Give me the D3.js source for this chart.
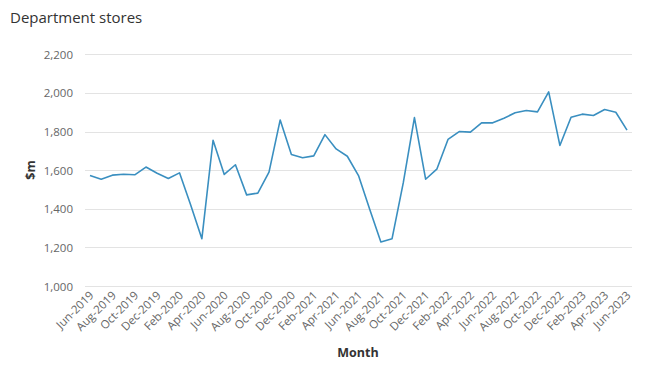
<!DOCTYPE html>
<html><head><meta charset="utf-8">
<script src="https://cdn.jsdelivr.net/npm/d3@7"></script>
<style>body{margin:0;background:#fff;} svg{display:block;}</style>
</head><body>
<svg id="c" width="650" height="366"></svg>
<script>
const months = ["Jun-2019","Jul-2019","Aug-2019","Sep-2019","Oct-2019","Nov-2019","Dec-2019","Jan-2020","Feb-2020","Mar-2020","Apr-2020","May-2020","Jun-2020","Jul-2020","Aug-2020","Sep-2020","Oct-2020","Nov-2020","Dec-2020","Jan-2021","Feb-2021","Mar-2021","Apr-2021","May-2021","Jun-2021","Jul-2021","Aug-2021","Sep-2021","Oct-2021","Nov-2021","Dec-2021","Jan-2022","Feb-2022","Mar-2022","Apr-2022","May-2022","Jun-2022","Jul-2022","Aug-2022","Sep-2022","Oct-2022","Nov-2022","Dec-2022","Jan-2023","Feb-2023","Mar-2023","Apr-2023","May-2023","Jun-2023"];
const sales = [1572,1553,1574,1579,1576,1616,1584,1557,1586,1420,1245,1755,1578,1628,1472,1481,1590,1860,1681,1664,1674,1784,1710,1672,1572,1397,1228,1245,1534,1872,1553,1605,1759,1800,1797,1845,1845,1869,1897,1909,1902,2005,1728,1874,1890,1883,1914,1900,1807];
const yTicks = [1000,1200,1400,1600,1800,2000,2200];
const title = "Department stores";
const xTitle = "Month";
const yTitle = "$m";

(function () {
const svg = d3.select("#c");
const font = "'Open Sans', sans-serif";
const pLeft = 85, pRight = 632, pTop = 54.3, pBottom = 286;

const x = d3.scalePoint().domain(months).range([90, 627]);
const y = d3.scaleLinear().domain([1000, 2200]).range([pBottom, pTop]);

svg.append("text").attr("x", 10).attr("y", 23).text(title)
  .style("font-family", font).style("font-size", "15px").attr("fill", "#333");

svg.append("g").selectAll("line").data(yTicks).join("line")
  .attr("x1", pLeft).attr("x2", pRight)
  .attr("y1", d => Math.round(y(d)) + 0.5).attr("y2", d => Math.round(y(d)) + 0.5)
  .attr("stroke", "#e3e3e3").attr("stroke-width", 1);

const yAxis = d3.axisLeft(y).tickValues(yTicks).tickFormat(d3.format(",")).tickSize(0).tickPadding(0);
const gy = svg.append("g").attr("transform", "translate(73,0)").call(yAxis);
gy.select(".domain").remove();
gy.selectAll("text").style("font-family", font).style("font-size", "11.5px").attr("fill", "#666").attr("dy", "0.35em");

const xAxis = d3.axisBottom(x).tickValues(months.filter((d, i) => i % 2 === 0)).tickSize(0).tickPadding(0);
const gx = svg.append("g").attr("transform", `translate(0,${pBottom})`).call(xAxis);
gx.select(".domain").remove();
gx.selectAll("text").style("font-family", font).style("font-size", "11.5px").attr("fill", "#666")
  .attr("text-anchor", "end").attr("dy", null).attr("y", 0)
  .attr("transform", "translate(4,10) rotate(-45)");

svg.append("path").datum(sales)
  .attr("fill", "none").attr("stroke", "#3a8fc0").attr("stroke-width", 1.6)
  .attr("stroke-linejoin", "round")
  .attr("d", d3.line().x((d, i) => x(months[i])).y(d => y(d)));

svg.append("text").attr("x", 358).attr("y", 357).attr("text-anchor", "middle").text(xTitle)
  .style("font-family", font).style("font-size", "12.5px").style("font-weight", "bold").attr("fill", "#333");
svg.append("text").attr("transform", "translate(35,170) rotate(-90)").attr("text-anchor", "middle").text(yTitle)
  .style("font-family", font).style("font-size", "12.5px").style("font-weight", "bold").attr("fill", "#333");
})();
</script>
</body></html>
